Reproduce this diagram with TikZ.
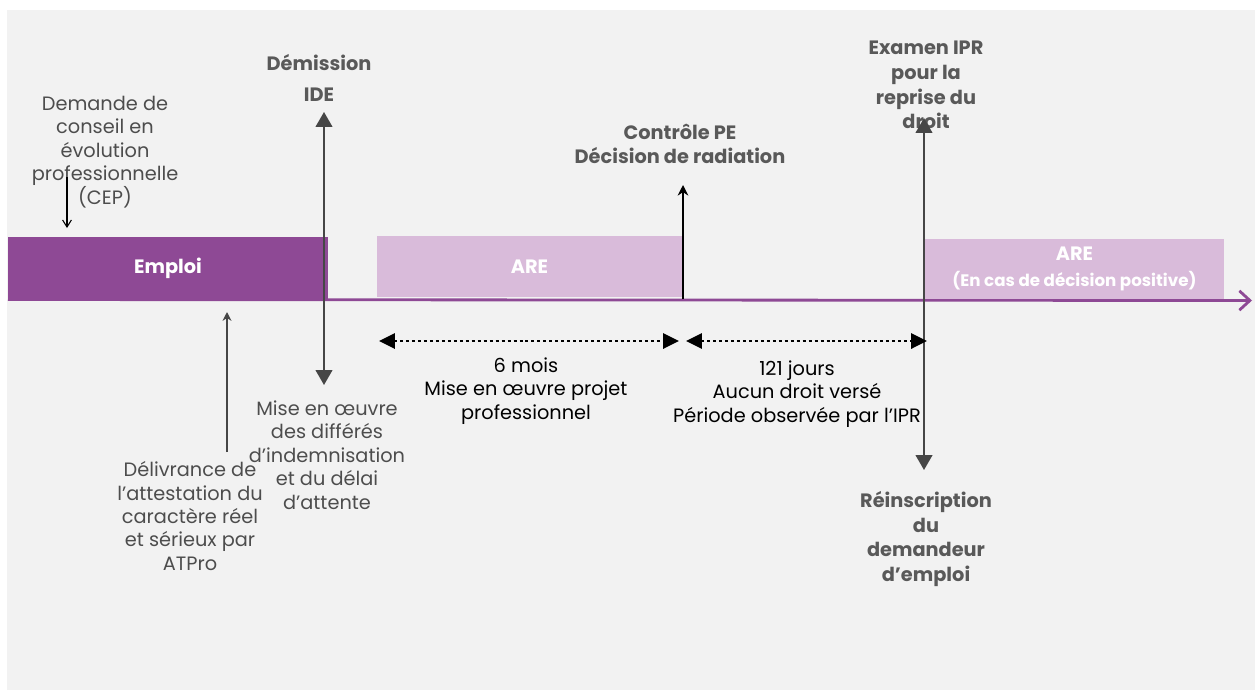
\documentclass[tikz,border=0pt]{standalone}
\usepackage{fontspec}
\setmainfont{Poppins}
\usepackage{xcolor}
\definecolor{emploiviolet}{RGB}{142,73,149}
\definecolor{aremauve}{RGB}{217,187,218}
\definecolor{fondgris}{RGB}{242,242,242}
\definecolor{titregris}{RGB}{89,89,89}
\definecolor{textegris}{RGB}{77,77,77}
\definecolor{flechegris}{RGB}{70,70,70}
\usetikzlibrary{
  arrows.meta,
  positioning
}
\tikzset{
  emploibox/.style={fill=emploiviolet, inner sep=0pt,
    minimum width=6.4cm, minimum height=1.24cm,
    text=white, align=center, font=\bfseries\fontsize{11}{14}\selectfont},
  arebox/.style={fill=aremauve, inner sep=0pt,
    text=white, align=center, font=\bfseries\fontsize{11}{14.5}\selectfont},
  titre/.style={align=center, text=titregris, inner sep=0pt,
    font=\bfseries\fontsize{11}{14}\selectfont},
  texte/.style={align=center, text=textegris, inner sep=0pt,
    font=\fontsize{11}{13.3}\selectfont},
  duree/.style={align=center, text=black, inner sep=0pt,
    font=\fontsize{11}{13.3}\selectfont},
  axe/.style={-{Straight Barb[length=6pt,width=11pt,line width=1.6pt]},
    line width=1.6pt, emploiviolet},
  fleche/.style={{Triangle[length=8.5pt,width=9.5pt]}-{Triangle[length=8.5pt,width=9.5pt]},
    line width=1.1pt, flechegris},
  pointille/.style={{Triangle[length=9pt,width=8.5pt]}-{Triangle[length=9pt,width=8.5pt]},
    line width=1.7pt, dash pattern=on 1.7pt off 1.7pt, black},
}

\begin{document}
\begin{tikzpicture}[x=0.02cm, y=-0.02cm]
  \useasboundingbox (0,0) rectangle (1255,690);
  \fill[fondgris] (7,10) rectangle (1255,690);

  % axe du temps
  \coordinate (debut) at (8,299.5);
  \coordinate (fin) at (1252,300.5);
  \draw[axe] (debut) -- (fin);

  % periodes
  \node[emploibox] (emploi) at (168,268) {Emploi};
  \node[arebox, minimum width=6.1cm, minimum height=1.22cm] (are) at (529.5,266.5) {ARE};
  \node[arebox, minimum width=5.98cm, minimum height=1.2cm] (arebis) at (1074.5,269)
    {ARE\\{\fontsize{9.5}{12}\selectfont (En cas de décision positive)}};

  % textes du haut
  \node[titre] (demission) at (319,78) {Démission\\[4pt]IDE};
  \node[texte] (cep) at (105,152)
    {Demande de\\conseil en\\évolution\\professionnelle\\(CEP)};
  \node[titre] (controle) at (680,144) {Contrôle PE\\Décision de radiation};
  \node[titre] (examen) at (926,85) {Examen IPR\\pour la\\reprise du\\droit};

  % textes du bas
  \node[texte] (atpro) at (190,516)
    {Délivrance de\\l’attestation du\\caractère réel\\et sérieux par\\ATPro};
  \node[texte] (differes) at (327,455)
    {Mise en œuvre\\des différés\\d’indemnisation\\et du délai\\d’attente};
  \node[duree] (sixmois) at (526,391)
    {6 mois\\Mise en œuvre projet\\professionnel};
  \node[duree] (jours) at (797,394)
    {121 jours\\Aucun droit versé\\Période observée par l’IPR};
  \node[titre] (reinscription) at (926,539)
    {Réinscription\\du\\demandeur\\d’emploi};

  % fleches
  \coordinate (cephaut) at (67,177);
  \coordinate (cepbas) at (67,228);
  \draw[-{Straight Barb[length=4pt,width=5pt]}, line width=0.6pt] (cephaut) -- (cepbas);

  \coordinate (atprohaut) at (227,312);
  \coordinate (atprobas) at (227,452);
  \draw[-{Stealth[length=5pt,width=5pt]}, line width=1.1pt, flechegris] (atprobas) -- (atprohaut);

  \coordinate (idehaut) at (324,112);
  \coordinate (idebas) at (324,385);
  \draw[fleche] (idehaut) -- (idebas);

  \coordinate (controlebas) at (683,299);
  \coordinate (controlehaut) at (683,185);
  \draw[-{Stealth[length=6pt,width=6pt]}, line width=1.7pt, black] (controlebas) -- (controlehaut);

  \coordinate (iprhaut) at (924,118);
  \coordinate (iprbas) at (924,470);
  \draw[fleche] (iprhaut) -- (iprbas);

  % durees
  \coordinate (sixg) at (379,341);
  \coordinate (sixd) at (679,341);
  \coordinate (joursg) at (686,341);
  \coordinate (joursd) at (927,341);
  \draw[pointille] (sixg) -- (sixd);
  \draw[pointille] (joursg) -- (joursd);
\end{tikzpicture}
\end{document}
